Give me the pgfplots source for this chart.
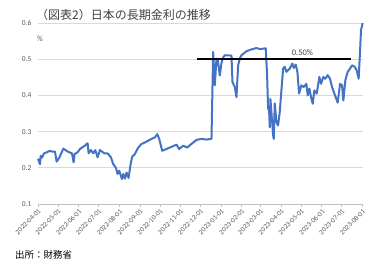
\documentclass[border=0pt]{standalone}
\usepackage{pgfplots}
\pgfplotsset{compat=1.18}
\usepackage{fontspec}
\setmainfont{Carlito}
\newfontfamily\jp{Noto Sans CJK JP}
\definecolor{lineblue}{HTML}{4472C4}
\definecolor{gridc}{HTML}{D9D9D9}
\definecolor{axisc}{HTML}{BFBFBF}
\definecolor{txt}{HTML}{595959}
\definecolor{titlec}{HTML}{404040}
\begin{document}
\begin{tikzpicture}
\useasboundingbox (0,0) rectangle (378pt,263pt);
\begin{axis}[
  at={(38pt,59pt)}, anchor=south west,
  width=325pt, height=181pt, scale only axis,
  xmin=0, xmax=488, ymin=0.1, ymax=0.6,
  axis x line*=bottom, axis y line*=left,
  x axis line style={draw=axisc, line width=0.75pt, -},
  y axis line style={draw=none, -},
  ytick={0.1,0.2,0.3,0.4,0.5,0.6},
  yticklabels={0.1,0.2,0.3,0.4,0.5,0.6},
  ymajorgrids, grid style={draw=gridc, line width=0.75pt},
  ytick style={draw=none},
  xtick={0,30,61,91,122,153,183,214,244,275,306,334,365,395,426,456,487},
  xticklabels={2022-04-01,2022-05-01,2022-06-01,2022-07-01,2022-08-01,2022-09-01,2022-10-01,2022-11-01,2022-12-01,2023-01-01,2023-02-01,2023-03-01,2023-04-01,2023-05-01,2023-06-01,2023-07-01,2023-08-01},
  xtick style={draw=axisc, line width=0.75pt},
  tick align=outside, major tick length=3pt,
  xticklabel style={rotate=45, anchor=north east, font=\fontsize{7}{8}\selectfont, text=txt, inner sep=1pt},
  yticklabel style={font=\fontsize{7.5}{8}\selectfont, text=txt},
  clip=false,
]
\addplot[lineblue, line width=2pt, line join=round] coordinates {
(0,0.225)(3,0.21)(4,0.233)(6,0.228)(9,0.24)(13.5,0.243)(18,0.247)(21,0.245)(25.5,0.245)(28,0.217)
(32,0.228)(38,0.253)(44.5,0.245)(51,0.24)(53.5,0.215)(55,0.238)(59.5,0.243)(63,0.252)(69.5,0.26)(74.5,0.268)
(76,0.24)(79.5,0.249)(83,0.24)(86,0.249)(89.5,0.229)(93,0.249)(99.5,0.24)(104.5,0.24)(109.5,0.229)(113,0.21)
(117,0.2)(119.5,0.183)(122,0.192)(126,0.169)(128,0.183)(130.5,0.17)(133,0.187)(136,0.172)(139.5,0.215)(142,0.233)
(144.5,0.235)(148,0.247)(150.5,0.256)(155.5,0.266)(160.5,0.27)(165.5,0.275)(170.5,0.28)(175.5,0.284)(179,0.293)(182,0.28)
(186.5,0.247)(193,0.252)(200.5,0.258)(208,0.264)(212,0.252)(218,0.261)(224,0.256)(230.5,0.266)(238,0.277)(245.5,0.28)
(253,0.278)(260.5,0.28)(263,0.52)(265.5,0.428)(268,0.502)(270,0.497)(273,0.455)(275.5,0.49)(278,0.505)(280.5,0.511)
(290.5,0.51)(292,0.437)(295.5,0.423)(298,0.395)(300.5,0.483)(303,0.502)(305.5,0.511)(313,0.522)(320.5,0.527)(328,0.531)
(333,0.528)(342,0.53)(344,0.455)(345.5,0.364)(347,0.358)(348,0.312)(349,0.39)(352,0.317)(353,0.29)(354,0.28)
(355.5,0.378)(358,0.326)(360.5,0.317)(363,0.354)(368,0.474)(370.5,0.479)(373,0.465)(378,0.474)(382,0.488)(384,0.476)
(387,0.485)(389.5,0.465)(392,0.405)(395.5,0.428)(399,0.423)(403,0.432)(405,0.4)(407.5,0.419)(410,0.395)(412.5,0.377)
(415,0.414)(418.5,0.405)(422.5,0.451)(425,0.432)(428.5,0.451)(431.5,0.446)(435,0.456)(438.5,0.446)(441.5,0.423)(445,0.405)
(450,0.38)(453.5,0.432)(456.5,0.428)(458.5,0.386)(461.5,0.442)(465,0.465)(468.5,0.474)(471.5,0.483)(475.5,0.479)(478.5,0.469)
(481.5,0.446)(483.5,0.52)(485,0.58)(487.5,0.6)
};
\addplot[black, line width=1.5pt] coordinates {(238.5,0.5)(470.5,0.5)};
\node[font=\fontsize{8.5}{9}\selectfont, text=titlec] at (axis cs:397,0.519) {0.50\%};
\end{axis}
\node[anchor=west, font=\jp\fontsize{12}{14}\selectfont, text=titlec, inner sep=0pt] at (36pt,248pt) {（図表2）日本の長期金利の推移};
\node[anchor=west, font=\fontsize{8}{9}\selectfont, text=txt, inner sep=0pt] at (37pt,224pt) {\%};
\node[anchor=west, font=\jp\fontsize{9.5}{11}\selectfont, text=black, inner sep=0pt] at (15pt,8pt) {出所：財務省};
\end{tikzpicture}
\end{document}
